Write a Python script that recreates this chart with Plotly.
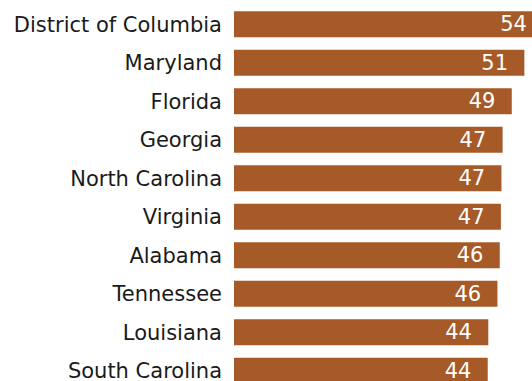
import plotly.graph_objects as go

states = ["District of Columbia", "Maryland", "Florida", "Georgia", "North Carolina",
          "Virginia", "Alabama", "Tennessee", "Louisiana", "South Carolina"]
values = [54.0, 50.7, 48.5, 46.9, 46.7, 46.6, 46.4, 46.0, 44.4, 44.3]
labels = ["54", "51", "49", "47", "47", "47", "46", "46", "44", "44"]

BAR_COLOR = "#A65A27"
NBSP = "\u00a0"

fig = go.Figure(
    go.Bar(
        x=values,
        y=states,
        orientation="h",
        marker=dict(color=BAR_COLOR, line=dict(width=0)),
        text=labels,
        texttemplate="%{text}" + NBSP * 2,
        textposition="inside",
        insidetextanchor="end",
        constraintext="none",
        textangle=0,
        textfont=dict(family="DejaVu Sans", size=21, color="white"),
        hoverinfo="skip",
    )
)

fig.update_layout(
    width=549,
    height=390,
    margin=dict(l=234, r=0, t=5, b=0, autoexpand=False),
    plot_bgcolor="white",
    paper_bgcolor="white",
    bargap=0.325,
    showlegend=False,
    font=dict(family="DejaVu Sans", size=21, color="#1a1a1a"),
)
fig.update_xaxes(range=[0, 55.0], visible=False, fixedrange=True)
fig.update_yaxes(
    autorange=False,
    range=[9.5, -0.5],
    showgrid=False,
    showline=False,
    zeroline=False,
    ticks="",
    ticklabelstandoff=11,
    automargin=False,
    fixedrange=True,
    tickfont=dict(family="DejaVu Sans", size=21, color="#1a1a1a"),
)

fig.write_html(
    "out.html",
    config={"displayModeBar": False},
    post_script="document.body.style.margin='0';document.body.style.overflow='hidden';",
)
